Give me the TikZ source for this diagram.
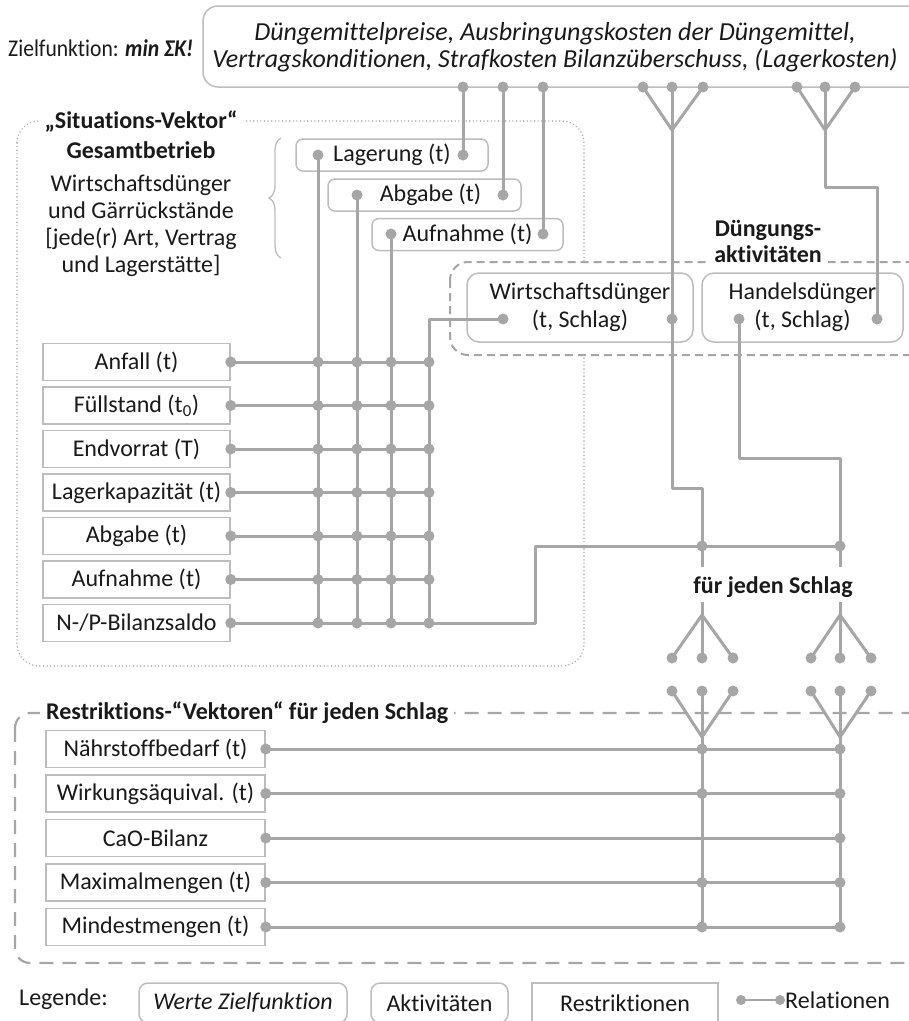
\documentclass[tikz,border=0pt]{standalone}
\usepackage{fontspec}
\usepackage{graphicx}
\setmainfont{Carlito}[Ligatures=NoCommon]
\usetikzlibrary{decorations.pathreplacing,calc}
\definecolor{lgray}{HTML}{A6A6A6}
\definecolor{bgray}{HTML}{BDBDBD}
\definecolor{tcol}{HTML}{1A1A1A}
\newcommand\fsz{\fontsize{24}{28}\selectfont}
\begin{document}
\begin{tikzpicture}[x=1pt,y=-1pt,
  font=\fsz, text=tcol,
  rel/.style={draw=lgray,line width=3pt,line join=round},
  rbox/.style={draw=bgray,line width=1.5pt,fill=white,inner sep=0pt,minimum height=37pt},
  abox/.style={rbox,rounded corners=7pt},
  lbl/.style={font=\fsz\bfseries,fill=white,inner xsep=6pt,inner ysep=2pt},
  bld/.style={font=\fsz\bfseries},
  rdot/.style={fill=lgray}]
\useasboundingbox (0,0) rectangle (909,1021);
\clip (0,0) rectangle (909,1021);

% ---------- Zielfunktion ----------
\draw[draw=bgray,line width=1.5pt,rounded corners=15pt] (203,6) rectangle (980,87);
\node[font=\fontsize{26}{27}\selectfont\itshape,align=center] (zf) at (555,47)
  {Düngemittelpreise, Ausbringungskosten der Düngemittel,\\Vertragskonditionen, Strafkosten Bilanzüberschuss, (Lagerkosten)};
\node[anchor=west,inner sep=0pt] (ziel) at (8,48) {\scalebox{0.9}[1]{Zielfunktion: {\bfseries\itshape min ΣK!}}};

% ---------- Situations-Vektor ----------
\draw[lgray,line width=1.6pt,dash pattern=on 0pt off 3.6pt,line cap=round,rounded corners=22pt]
  (17,121) rectangle (584,666);
\node[lbl] (sv) at (141,122) {„Situations-Vektor“};
\node[bld] (gb) at (141,150) {Gesamtbetrieb};
\node[align=center,font=\fontsize{24}{27}\selectfont] (wdg) at (141,226)
  {Wirtschaftsdünger\\und Gärrückstände\\{[}jede(r) Art, Vertrag\\und Lagerstätte{]}};
\draw[bgray,line width=1.3pt,decorate,decoration={brace,amplitude=12pt}] (281,258) -- (281,138);

% ---------- Duengungsaktivitaeten ----------
\draw[lgray,line width=2pt,dash pattern=on 8pt off 5pt,rounded corners=18pt,fill=white]
  (450,262) rectangle (980,355);
\node[lbl,align=center,font=\fontsize{24}{26}\selectfont\bfseries] (da) at (768,241) {Düngungs-\\aktivitäten};

% ---------- Restriktionen ----------
\draw[lgray,line width=2.2pt,dash pattern=on 14pt off 9pt,rounded corners=15pt]
  (15,713) rectangle (980,963);
\node[lbl,anchor=west] (rv) at (40,713) {Restriktions-“Vektoren“ für jeden Schlag};

% ---------- activity boxes ----------
\node[abox,minimum width=192pt,minimum height=32pt] (lag) at (392,155) {Lagerung (t)};
\node[abox,minimum width=193pt,minimum height=32pt] (abg) at (424.5,195) {\hspace*{12pt}Abgabe (t)};
\node[abox,minimum width=191pt,minimum height=32pt] (auf) at (467.5,234.5) {Aufnahme (t)};
\node[abox,rounded corners=12pt,minimum width=226pt,minimum height=69pt,align=center] (wdn) at (580,307.5) {Wirtschaftsdünger\\(t, Schlag)};
\node[abox,rounded corners=12pt,minimum width=201pt,minimum height=69pt,align=center] (hdn) at (802.5,307.5) {Handelsdünger\\(t, Schlag)};

% ---------- situation rows ----------
\foreach \t [count=\i from 0] in {Anfall (t),Füllstand (t\textsubscript{0}),Endvorrat (T),Lagerkapazität (t),Abgabe (t),Aufnahme (t),N-/P-Bilanzsaldo}
  \node[rbox,minimum width=187pt] (s\i) at (136.5,{362+43.5*\i}) {\t};

% ---------- restriction rows ----------
\foreach \t [count=\i from 0] in {Nährstoffbedarf (t),Wirkungsäquival. (t),CaO-Bilanz,Maximalmengen (t),Mindestmengen (t)}
  \node[rbox,minimum width=219pt] (r\i) at (155.5,{749+44.5*\i}) {\t};

% ---------- coordinates ----------
\coordinate (t1) at (463,87); \coordinate (t2) at (503,87); \coordinate (t3) at (543,87);
\coordinate (t4) at (643,87); \coordinate (t5) at (672,87); \coordinate (t6) at (703,87);
\coordinate (t7) at (797,87); \coordinate (t8) at (825,87); \coordinate (t9) at (855,87);
\coordinate (f1) at (672,130); \coordinate (f2) at (825,130);
\coordinate (lagL) at (318,155); \coordinate (lagR) at (463,155);
\coordinate (abgL) at (357,195); \coordinate (abgR) at (503,195);
\coordinate (aufL) at (391,234); \coordinate (aufR) at (543,234);
\coordinate (wdL) at (503,319); \coordinate (wdR) at (672,319);
\coordinate (hdL) at (739,319); \coordinate (hdR) at (877,319);
\coordinate (gx4) at (429,319);
\coordinate (k1) at (672,488); \coordinate (k2) at (702,488);
\coordinate (k3) at (825,187); \coordinate (k4) at (877,187);
\coordinate (k5) at (739,458); \coordinate (k6) at (840,458);
\coordinate (sb) at (535,546);
\coordinate (j1) at (702,546); \coordinate (j2) at (840,546);
\coordinate (e1) at (702,567); \coordinate (e2) at (840,567);
\coordinate (u1) at (702,602); \coordinate (u2) at (840,602);
\coordinate (p1) at (702,615); \coordinate (p2) at (840,615);
\coordinate (d11) at (672,658); \coordinate (d12) at (702,658); \coordinate (d13) at (733,658);
\coordinate (d21) at (811,658); \coordinate (d22) at (840,658); \coordinate (d23) at (871,658);
\coordinate (g11) at (672,691); \coordinate (g12) at (702,691); \coordinate (g13) at (733,691);
\coordinate (g21) at (811,691); \coordinate (g22) at (840,691); \coordinate (g23) at (871,691);
\coordinate (q1) at (702,737); \coordinate (q2) at (840,737);

\node[bld] (fjs) at (773,587) {für jeden Schlag};

% ---------- connectors ----------
\draw[rel] (t1) -- (lagR);
\draw[rel] (t2) -- (abgR);
\draw[rel] (t3) -- (aufR);
\draw[rel] (t4) -- (f1) -- (t6);
\draw[rel] (t5) -- (f1) -- (wdR) -- (k1) -- (k2) -- (j1) -- (e1);
\draw[rel] (t7) -- (f2) -- (t9);
\draw[rel] (t8) -- (f2) -- (k3) -- (k4) -- (hdR);
\draw[rel] (hdL) -- (k5) -- (k6) -- (j2) -- (e2);
\draw[rel] (lagL) -- (lagL |- s6.east);
\draw[rel] (abgL) -- (abgL |- s6.east);
\draw[rel] (aufL) -- (aufL |- s6.east);
\draw[rel] (wdL) -- (gx4) -- (gx4 |- s6.east);
\foreach \i in {0,...,5} \draw[rel] (s\i.east) -- (s\i.east -| gx4);
\draw[rel] (s6.east) -- (s6.east -| sb) -- (sb) -- (j1) -- (j2);
\draw[rel] (u1) -- (d12); \draw[rel] (d11) -- (p1) -- (d13);
\draw[rel] (u2) -- (d22); \draw[rel] (d21) -- (p2) -- (d23);
\draw[rel] (g11) -- (q1) -- (g13); \draw[rel] (g12) -- (q1 |- r4.east);
\draw[rel] (g21) -- (q2) -- (g23); \draw[rel] (g22) -- (q2 |- r4.east);
\foreach \i in {0,...,4} \draw[rel] (r\i.east) -- (r\i.east -| g22);

% ---------- dots ----------
\foreach \p in {t1,t2,t3,t4,t5,t6,t7,t8,t9,lagL,lagR,abgL,abgR,aufL,aufR,wdL,wdR,hdL,hdR,j1,j2,d11,d12,d13,d21,d22,d23,g11,g12,g13,g21,g22,g23}
  \fill[rdot] (\p) circle (5.5);
\foreach \i in {0,...,6} {
  \fill[rdot] (s\i.east) circle (5.5);
  \foreach \c in {lagL,abgL,aufL,gx4} \fill[rdot] (s\i.east -| \c) circle (5.5);
}
\foreach \i in {0,...,4} {
  \fill[rdot] (r\i.east) circle (5.5);
  \fill[rdot] (r\i.east -| g22) circle (5.5);
}
\foreach \i in {0,1,3,4} \fill[rdot] (r\i.east -| g12) circle (5.5);

% ---------- legend ----------
\node[anchor=west,inner sep=0pt] (leg) at (19,999) {Legende:};
\node[abox,rounded corners=9pt,minimum width=208pt,minimum height=40pt,font=\fsz\itshape] (l1) at (243,1003) {Werte Zielfunktion};
\node[abox,rounded corners=9pt,minimum width=137pt,minimum height=40pt] (l2) at (439.5,1003) {Aktivitäten};
\node[rbox,minimum width=186pt,minimum height=40pt] (l3) at (625,1003) {Restriktionen};
\coordinate (lr1) at (741,1000); \coordinate (lr2) at (780,1000);
\draw[rel,line width=2.5pt] (lr1) -- (lr2);
\fill[rdot] (lr1) circle (5); \fill[rdot] (lr2) circle (5);
\node[anchor=west,inner sep=0pt] (lrt) at (785,1000) {Relationen};
\end{tikzpicture}
\end{document}
